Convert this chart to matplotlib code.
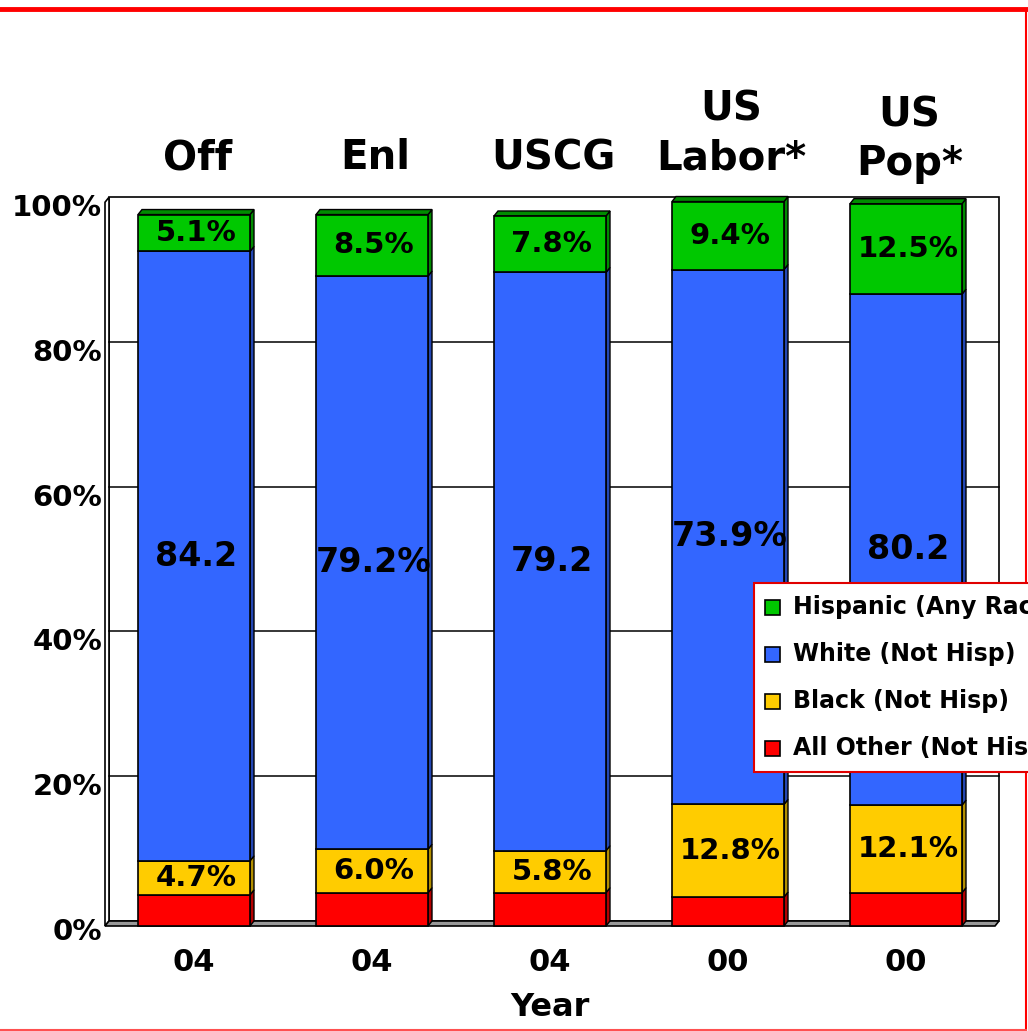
import matplotlib
matplotlib.use("Agg")
import matplotlib.pyplot as plt
from matplotlib.patches import Rectangle, Polygon
from matplotlib.lines import Line2D
from matplotlib.transforms import ScaledTranslation

plt.rcParams['font.family'] = ['DejaVu Sans']
plt.rcParams['font.weight'] = 'bold'

# data
groups = ["Off", "Enl", "USCG", "US\nLabor*", "US\nPop*"]
years = ["04", "04", "04", "00", "00"]
series = ["Hispanic (Any Race)", "White (Not Hisp)", "Black (Not Hisp)", "All Other (Not Hisp)"]
other = [4.3, 4.6, 4.6, 4.0, 4.6]
black = [4.7, 6.0, 5.8, 12.8, 12.1]
white = [84.2, 79.2, 79.9, 73.9, 70.6]
hisp = [5.1, 8.5, 7.8, 9.4, 12.5]
other_labels = ["", "", "", "", ""]
black_labels = ["4.7%", "6.0%", "5.8%", "12.8%", "12.1%"]
white_labels = ["84.2", "79.2%", "79.2", "73.9%", "80.2"]
hisp_labels = ["5.1%", "8.5%", "7.8%", "9.4%", "12.5%"]

colors = {"hisp": "#00C800", "white": "#3366FF", "black": "#FFCC00", "other": "#FF0000"}
sides = {"hisp": "#008C00", "white": "#2447B3", "black": "#B38F00", "other": "#B30000"}

W, H = 1028, 1031
fig = plt.figure(figsize=(W / 100, H / 100), dpi=100)
# axes in pixel terms: x 105..995, y 195..926
ax = fig.add_axes([105 / W, (H - 926) / H, 890 / W, 731 / H])
ax.set_xlim(-0.5, 4.5)
ax.set_ylim(0, 101)
for s in ax.spines.values():
    s.set_visible(False)

dx = 4 / 178.0   # depth in x (data units)
dy = 5 / 7.24    # depth in y (data units)
bw = 112 / 178.0

# back wall, left wall, floor
ax.add_patch(Rectangle((-0.5 + dx, dy), 5, 100, facecolor="white", edgecolor="black", lw=1.2, zorder=0.5, clip_on=False))
ax.add_patch(Polygon([(-0.5, 0), (-0.5 + dx, dy), (-0.5 + dx, 100 + dy), (-0.5, 100)], closed=True,
                     facecolor="white", edgecolor="black", lw=1.2, zorder=0.6, clip_on=False))
ax.add_patch(Polygon([(-0.5, 0), (4.5, 0), (4.5 + dx, dy), (-0.5 + dx, dy)], closed=True,
                     facecolor="#999999", edgecolor="black", lw=1.2, zorder=0.7, clip_on=False))
for g in [20, 40, 60, 80]:
    ax.plot([-0.5 + dx, 4.5 + dx], [g + dy, g + dy], color="black", lw=1.1, zorder=0.6, clip_on=False)

stack = [("other", other, other_labels), ("black", black, black_labels),
         ("white", white, white_labels), ("hisp", hisp, hisp_labels)]

for i in range(len(groups)):
    bottom = 0.0
    for k, (key, vals, labs) in enumerate(stack):
        h = vals[i]
        top = bottom + h
        x0, x1 = i - bw / 2, i + bw / 2
        ax.add_patch(Rectangle((x0, bottom), bw, h, facecolor=colors[key], edgecolor="black",
                               lw=1.2, zorder=3, clip_on=False))
        ax.add_patch(Polygon([(x1, bottom), (x1 + dx, bottom + dy), (x1 + dx, top + dy), (x1, top)],
                             closed=True, facecolor=sides[key], edgecolor="black", lw=1.0,
                             zorder=2.9, clip_on=False))
        if k == len(stack) - 1:
            ax.add_patch(Polygon([(x0, top), (x0 + dx, top + dy), (x1 + dx, top + dy), (x1, top)],
                                 closed=True, facecolor=sides[key], edgecolor="black", lw=1.0,
                                 zorder=2.9, clip_on=False))
        lab = labs[i]
        if lab:
            size = 24 if key == "white" else 21
            ax.text(i + 0.01, bottom + h / 2, lab, ha="center", va="center", fontsize=size,
                    fontweight="bold", color="black", zorder=4)
        bottom = top

# group headers
for i, g in enumerate(groups):
    yb = 1.015 if "Pop" in g else 1.023
    ax.text(i + 0.02, yb, g, transform=ax.get_xaxis_transform(), ha="center", va="bottom",
            fontsize=29, fontweight="bold", linespacing=1.27)

ax.set_yticks([0, 20, 40, 60, 80, 100])
ax.set_yticklabels(["0%", "20%", "40%", "60%", "80%", "100%"], fontsize=21, fontweight="bold")
ax.set_xticks(range(len(years)))
ax.set_xticklabels(years, fontsize=22, fontweight="bold")
ax.tick_params(axis="y", length=0, pad=2)
ax.tick_params(axis="x", length=0, pad=16)
shift = ScaledTranslation(0, -6 / 100, fig.dpi_scale_trans)
for t in ax.get_yticklabels():
    t.set_verticalalignment("center")
    t.set_transform(t.get_transform() + shift)
ax.set_xlabel("Year", fontsize=23, fontweight="bold", labelpad=11)

# legend (runs off the right edge like the original)
lx, ly_top, ly_bot = 754, 583, 772
fig.patches.append(Rectangle((lx / W, (H - ly_bot) / H), 0.4, (ly_bot - ly_top) / H, transform=fig.transFigure,
                             facecolor="white", edgecolor="#E00000", lw=1.5, zorder=5))
leg_colors = [colors["hisp"], colors["white"], colors["black"], colors["other"]]
for j, (name, c) in enumerate(zip(series, leg_colors)):
    yc = 607 + j * 47
    fig.patches.append(Rectangle((765 / W, (H - yc - 7.5) / H), 15 / W, 15 / H, transform=fig.transFigure,
                                 facecolor=c, edgecolor="black", lw=1.2, zorder=6))
    fig.text(793 / W, (H - yc) / H, name, ha="left", va="center", fontsize=17, fontweight="bold", zorder=6)

# red frame
fig.lines.append(Line2D([0, 1027 / W], [(H - 9) / H, (H - 9) / H], transform=fig.transFigure, color="red", lw=3.5))
fig.lines.append(Line2D([1026 / W, 1026 / W], [(H - 9) / H, (H - 1030) / H], transform=fig.transFigure, color="red", lw=1.5))
fig.lines.append(Line2D([0, 1026 / W], [(H - 1030) / H, (H - 1030) / H], transform=fig.transFigure, color="#FF5050", lw=1.5))

fig.savefig("out.png", dpi=100)
